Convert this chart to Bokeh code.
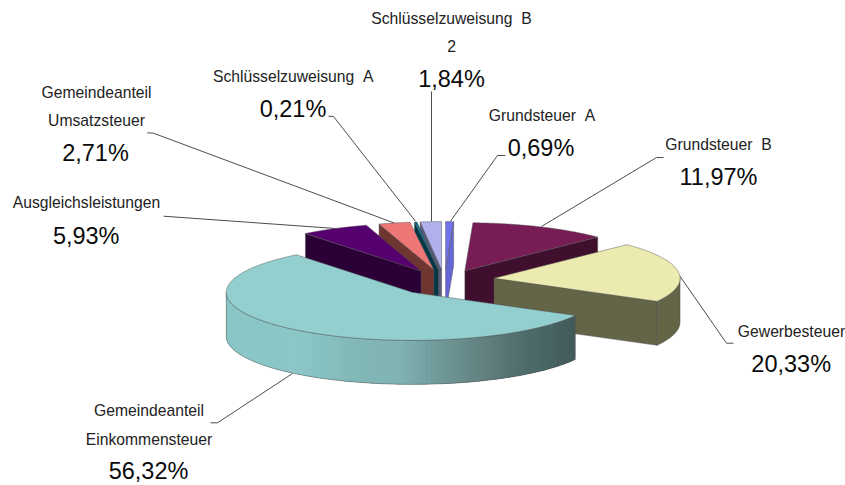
import numpy as np
from bokeh.plotting import figure
from bokeh.models import Range1d, ColumnDataSource
from bokeh.core.properties import value
from bokeh.embed import file_html
from bokeh.resources import INLINE

# ---- data (clockwise from 12 o'clock)
label_lines = [
    ["Grundsteuer\u00a0\u00a0A"],
    ["Grundsteuer\u00a0\u00a0B"],
    ["Gewerbesteuer"],
    ["Gemeindeanteil", "Einkommensteuer"],
    ["Ausgleichsleistungen"],
    ["Gemeindeanteil", "Umsatzsteuer"],
    ["Schlüsselzuweisung\u00a0\u00a0A"],
    ["Schlüsselzuweisung\u00a0\u00a0B", "2"],
]
shares = [0.69, 11.97, 20.33, 56.32, 5.93, 2.71, 0.21, 1.84]
pct_labels = ["0,69%", "11,97%", "20,33%", "56,32%", "5,93%", "2,71%", "0,21%", "1,84%"]

# ---- style
top_colors = ["#7272EC", "#771C55", "#EBEBB0", "#93CFCF", "#55006E", "#EE7675", "#00708F", "#B0B0EC"]
side_colors = ["#6666D6", "#3F0F2D", "#646446", "#8AC4C4", "#2A0037", "#6E3531", "#003747", "#5A5A7A"]
draw_order = [0, 1, 7, 6, 5, 4, 2, 3]
teal_stops_x = [226, 300, 350, 400, 440, 480, 520, 575]
teal_stops_c = [(138, 198, 198), (140, 198, 198), (130, 184, 184), (128, 178, 178),
                (110, 152, 152), (100, 130, 130), (80, 110, 110), (65, 90, 90)]

CX, CY, RX, RY, EXPLODE, DEPTH = 444.0, 282.0, 186.0, 48.0, 50.0, 44.0
nudge_y = [0, 0, -2.5, 0, 0, 0, 0, 0]

# ---- label layout: (cx, cy) per text line, percentage position, leader
line_pos = [[(541.5, 115)], [(718, 143.5)], [(791, 330.5)], [(148.5, 410), (148.5, 438.5)],
            [(86, 202)], [(96, 91.5), (96, 120)], [(292.7, 75.5)], [(451, 17.5), (451, 45.5)]]
pct_pos = [(540.5, 147.5), (718, 176.5), (790.7, 363), (148, 470.5),
           (85.7, 235), (95, 152.5), (292.5, 108.5), (451, 78.5)]
leaders = [
    ([505, 497, 450], [155, 155, 220.7]),
    ([663, 656, 541], [157, 157, 226]),
    ([733, 726, 679], [342.7, 342.7, 275]),
    ([210, 217, 292], [422.3, 422.3, 373]),
    ([163, 335], [215.7, 228]),
    ([146.7, 153, 395], [132.3, 132.7, 223]),
    ([328, 333, 415], [115.7, 116, 220.7]),
    ([431, 431], [91, 221]),
]

# ---- geometry from the shares
edges = np.cumsum([0.0] + shares) / sum(shares) * 360.0
xs, ys, fills, lines, falpha, lalpha = [], [], [], [], [], []


def add(px, py, fill, line="#555555", fa=1.0, la=0.6):
    xs.append(list(map(float, px))); ys.append(list(map(float, py)))
    fills.append(fill); lines.append(line); falpha.append(fa); lalpha.append(la)


def rgb(c):
    return "#%02X%02X%02X" % tuple(int(round(v)) for v in c)


for i in draw_order:
    a0, a1 = edges[i], edges[i + 1]
    mid = np.radians((a0 + a1) / 2)
    tx = CX + EXPLODE * np.sin(mid)
    ty = CY - EXPLODE * RY / RX * np.cos(mid) + nudge_y[i]
    pt = lambda a: (tx + RX * np.sin(np.radians(a)), ty - RY * np.cos(np.radians(a)))
    # radial faces
    for a, d in ((a0, a0 - 90), (a1, a1 + 90)):
        if np.cos(np.radians(d)) < -1e-6:
            ox, oy = pt(a)
            add([tx, ox, ox, tx], [ty, oy, oy + DEPTH, ty + DEPTH], side_colors[i])
    # outer rim
    lo, hi = max(a0, 90.0), min(a1, 270.0)
    if hi > lo:
        if i == 3:  # shaded rim: overlapping strips so that no seams show
            ang = np.linspace(lo, hi, 91)
            rx_, ry_ = pt(ang)
            for k in range(len(ang) - 1):
                xm = (rx_[k] + rx_[k + 1]) / 2
                col = [np.interp(xm, teal_stops_x, [c[j] for c in teal_stops_c]) for j in range(3)]
                e = min(k + 3, len(ang) - 1)
                sx = rx_[k:e + 1]; sy = ry_[k:e + 1]
                add(list(sx) + list(sx[::-1]), list(sy) + list(sy[::-1] + DEPTH), rgb(col), rgb(col), 1.0, 0.0)
        ang = np.linspace(lo, hi, 120)
        rx_, ry_ = pt(ang)
        if i == 3:
            add(list(rx_) + list(rx_[::-1]), list(ry_) + list(ry_[::-1] + DEPTH), "#000000", "#555555", 0.0, 0.6)
        else:
            add(list(rx_) + list(rx_[::-1]), list(ry_) + list(ry_[::-1] + DEPTH), side_colors[i])
    # top surface
    ang = np.linspace(a0, a1, max(2, int(a1 - a0) * 3))
    ox, oy = pt(ang)
    add([tx] + list(ox), [ty] + list(oy), top_colors[i])

p = figure(width=845, height=485, x_range=Range1d(0, 845), y_range=Range1d(485, 0),
           x_axis_type=None, y_axis_type=None, toolbar_location=None,
           output_backend="svg", min_border=0, outline_line_color=None)
p.grid.visible = False

p.multi_line([l[0] for l in leaders], [l[1] for l in leaders], line_color="#3A3A3A", line_width=1, line_alpha=0.9)
p.patches("xs", "ys", source=ColumnDataSource(dict(xs=xs, ys=ys, f=fills, l=lines, fa=falpha, la=lalpha)),
          fill_color="f", line_color="l", fill_alpha="fa", line_alpha="la", line_width=0.8)

tx_, ty_, tt_ = [], [], []
for lines_, pos in zip(label_lines, line_pos):
    for t, (x, y) in zip(lines_, pos):
        tx_.append(x); ty_.append(y); tt_.append(t)
p.text(tx_, ty_, text=tt_, text_font=value("Liberation Sans"), text_font_size="15.7px",
       text_color="#222222", text_align="center", text_baseline="middle")
p.text([q[0] for q in pct_pos], [q[1] for q in pct_pos], text=pct_labels, text_font=value("Liberation Sans"),
       text_font_size="23.5px", text_color="#0A0A0A", text_align="center", text_baseline="middle")

open("out.html", "w").write(file_html(p, INLINE))
